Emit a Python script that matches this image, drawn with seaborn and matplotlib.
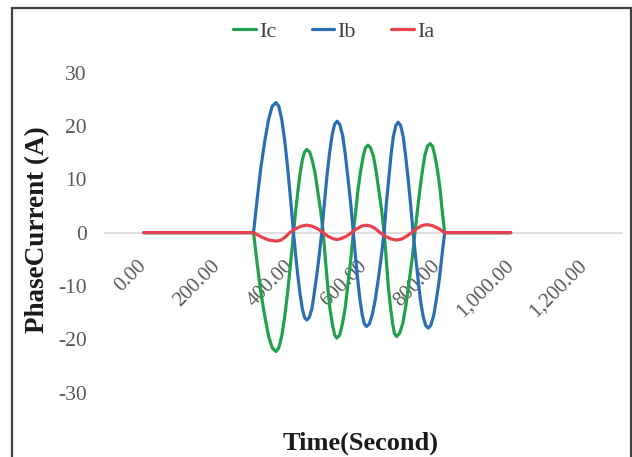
import pandas as pd
import matplotlib
matplotlib.use("Agg")
import matplotlib.pyplot as plt
import seaborn as sns
from matplotlib.patches import Rectangle

# Values (time, current) for each phase
ib_time = [0, 299,
           309, 319, 330, 340, 350, 360, 368, 376, 384, 392, 400, 408,
           414, 420, 426, 432, 438, 444, 451, 458, 464, 471, 478, 485,
           492, 499, 506, 513, 520, 527, 534, 542, 549, 556, 564, 571,
           577, 583, 589, 595, 601, 607, 615, 623, 631, 639, 647, 655,
           661, 668, 674, 680, 687, 693, 700, 707, 713, 720, 727, 734,
           741, 748, 754, 761, 768, 775, 782, 790, 797, 805, 812, 820,
           1000]
ib_value = [0, 0,
            6.3, 12.2, 17.3, 21.2, 23.7, 24.4, 23.7, 21.2, 17.3, 12.2, 6.3, 0,
            -4.3, -8.2, -11.6, -14.3, -15.9, -16.4, -15.9, -14.3, -11.6, -8.2, -4.3, 0,
            5.4, 10.5, 14.8, 18.2, 20.3, 20.9, 20.3, 18.2, 14.8, 10.5, 5.4, 0,
            -4.6, -8.8, -12.5, -15.3, -17.1, -17.6, -17.1, -15.3, -12.5, -8.8, -4.6, 0,
            5.4, 10.4, 14.7, 18.0, 20.1, 20.7, 20.1, 18.0, 14.7, 10.4, 5.4, 0,
            -4.7, -9.0, -12.7, -15.6, -17.4, -17.9, -17.4, -15.6, -12.7, -9.0, -4.7, 0,
            0]

ic_time = [0, 299,
           309, 319, 330, 340, 350, 360, 368, 376, 384, 392, 400, 408,
           414, 420, 426, 432, 438, 444, 452, 459, 467, 474, 482, 489,
           495, 501, 507, 514, 520, 526, 534, 541, 549, 556, 564, 571,
           578, 584, 591, 598, 604, 611, 618, 626, 633, 640, 648, 655,
           661, 666, 672, 678, 683, 689, 697, 706, 714, 722, 731, 739,
           746, 753, 760, 766, 773, 780, 787, 793, 800, 807, 813, 820,
           1000]
ic_value = [0, 0,
            -5.8, -11.2, -15.8, -19.4, -21.6, -22.3, -21.6, -19.4, -15.8, -11.2, -5.8, 0,
            4.1, 7.8, 11.1, 13.6, 15.1, 15.6, 15.1, 13.6, 11.1, 7.8, 4.1, 0,
            -5.1, -9.9, -14.1, -17.2, -19.2, -19.8, -19.2, -17.2, -14.1, -9.9, -5.1, 0,
            4.3, 8.2, 11.6, 14.3, 15.9, 16.4, 15.9, 14.3, 11.6, 8.2, 4.3, 0,
            -5.1, -9.8, -13.8, -17.0, -18.9, -19.5, -18.9, -17.0, -13.8, -9.8, -5.1, 0,
            4.3, 8.4, 11.9, 14.5, 16.2, 16.7, 16.2, 14.5, 11.9, 8.4, 4.3, 0,
            0]

ia_time = [0, 299,
           320, 341, 362, 374, 386, 398,
           413, 429, 444, 459, 474, 489,
           501, 514, 526, 539, 553, 566,
           580, 593, 607, 619, 632, 644,
           659, 674, 689, 703, 716, 730,
           744, 757, 771, 787, 804, 820,
           1000]
ia_value = [0, 0,
            -0.8, -1.4, -1.6, -1.4, -0.8, 0,
            0.7, 1.2, 1.4, 1.2, 0.7, 0,
            -0.65, -1.1, -1.3, -1.1, -0.65, 0,
            0.7, 1.2, 1.4, 1.2, 0.7, 0,
            -0.7, -1.2, -1.4, -1.2, -0.7, 0,
            0.75, 1.3, 1.5, 1.3, 0.75, 0,
            0]

x_ticks = [0, 200, 400, 600, 800, 1000, 1200]
y_ticks = [-30, -20, -10, 0, 10, 20, 30]

phases = ["Ic", "Ib", "Ia"]
colors = {"Ic": "#22a04e", "Ib": "#2a6fb5", "Ia": "#e8424c"}

df = pd.concat([
    pd.DataFrame({"time": ic_time, "current": ic_value, "phase": "Ic"}),
    pd.DataFrame({"time": ib_time, "current": ib_value, "phase": "Ib"}),
    pd.DataFrame({"time": ia_time, "current": ia_value, "phase": "Ia"}),
], ignore_index=True)

sns.set_style("white")
plt.rcParams["font.family"] = ["Liberation Serif", "DejaVu Serif"]
plt.rcParams["axes.unicode_minus"] = False

fig = plt.figure(figsize=(6.32, 4.57), dpi=100)
ax = fig.add_axes([0.166, 0.141, 0.818, 0.700])

sns.lineplot(data=df, x="time", y="current", hue="phase", hue_order=phases,
             palette=colors, sort=False, estimator=None, linewidth=2.3, ax=ax)

ax.set_xlim(-106, 1303)
ax.set_ylim(-30, 30)
ax.set_xticks(x_ticks)
ax.set_xticklabels([f"{v:,.2f}" for v in x_ticks])
ax.set_yticks(y_ticks)

# horizontal axis sits on y = 0, labels underneath it
for side in ["top", "right", "left"]:
    ax.spines[side].set_visible(False)
ax.spines["bottom"].set_position(("data", 0))
ax.spines["bottom"].set_color("#d9d9d9")
ax.spines["bottom"].set_linewidth(1.2)
ax.spines["bottom"].set_zorder(0)

ax.tick_params(axis="x", length=0, pad=22, labelsize=15, labelcolor="#595959")
ax.tick_params(axis="y", length=0, pad=13, labelsize=15.5, labelcolor="#595959")
for lab in ax.get_xticklabels():
    lab.set_rotation(45)
    lab.set_ha("right")
    lab.set_va("center")
    lab.set_rotation_mode("anchor")

ax.set_xlabel("Time(Second)", fontsize=19, fontweight="bold", color="#1a1a1a")
ax.set_ylabel("PhaseCurrent (A)", fontsize=19.5, fontweight="bold", color="#1a1a1a")
ax.xaxis.set_label_coords(0.494, -0.122)
ax.yaxis.set_label_coords(-0.106, 0.508)

handles, labels = ax.get_legend_handles_labels()
ax.legend(handles, labels, loc="center", bbox_to_anchor=(0.528, 0.93),
          bbox_transform=fig.transFigure, ncol=3, frameon=False,
          fontsize=16, handlelength=1.0, handletextpad=0.15, columnspacing=1.6,
          labelcolor="#404040")

# outer chart border (cut off at the bottom in the reference)
fig.patches.append(Rectangle((0.019, -0.05), 0.979, 1.032, transform=fig.transFigure,
                             fill=False, edgecolor="#404040", linewidth=1.6))

fig.savefig("out.png", dpi=100)
